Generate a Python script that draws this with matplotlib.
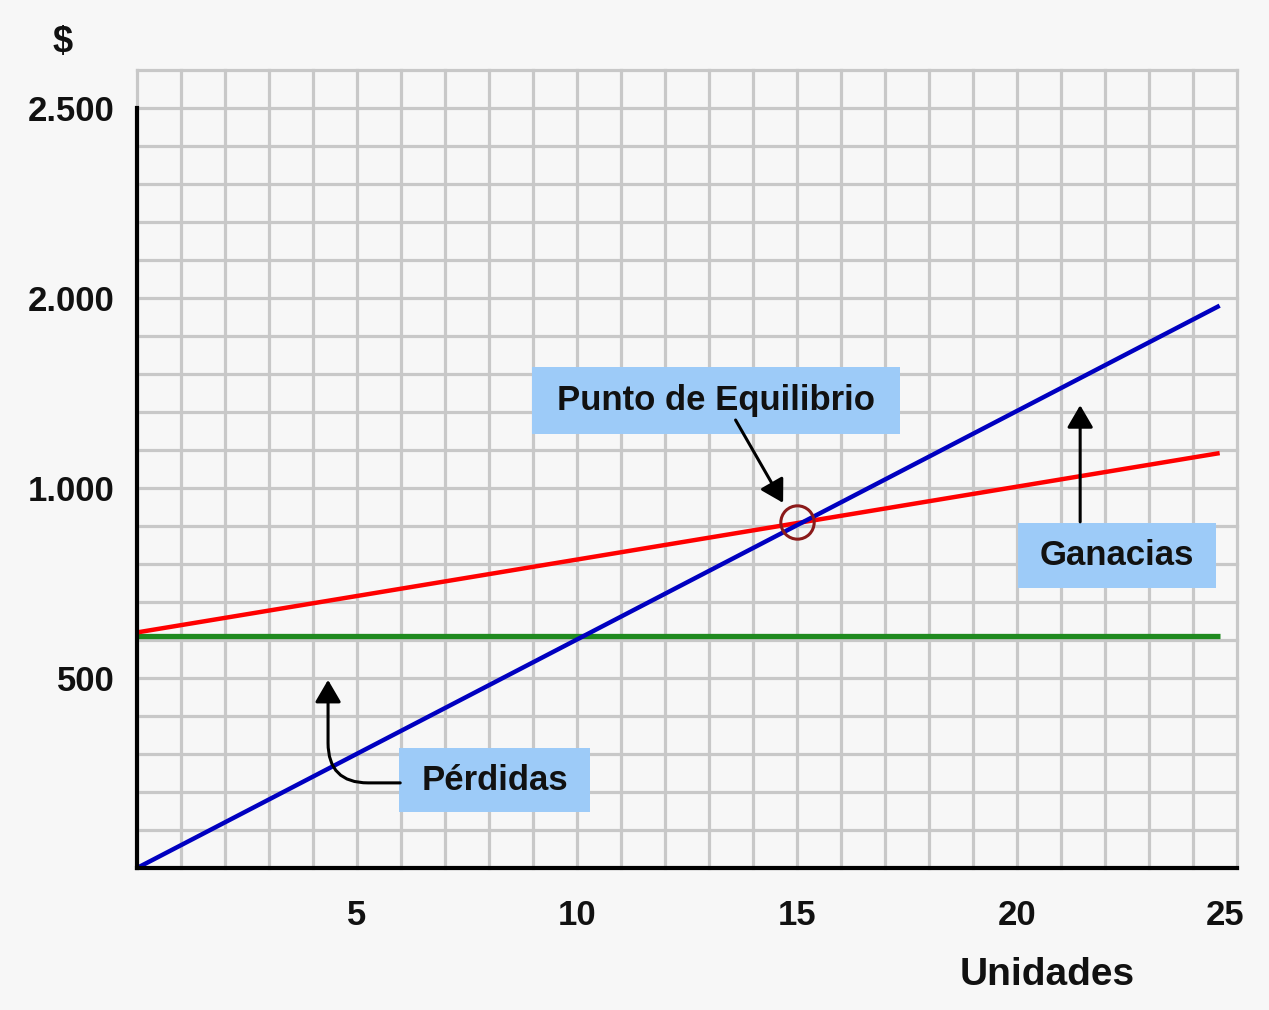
import matplotlib.pyplot as plt
from matplotlib.patches import Rectangle
from matplotlib.transforms import ScaledTranslation

# data
units = [0, 24.6]
fixed_cost = [610, 610]
total_cost = [620, 1092]
revenue = [0, 1480]
break_even = (15, 910)

x_ticks = [5, 10, 15, 20, 25]
x_labels = ['5', '10', '15', '20', '25']
y_ticks = [500, 1000, 1500, 2000]
y_labels = ['500', '1.000', '2.000', '2.500']

bg = '#f7f7f7'
box_color = '#9dcbf8'
grid_color = '#c8c8c8'
txt = '#111111'

plt.rcParams['font.family'] = ['Liberation Sans', 'DejaVu Sans']
plt.rcParams['font.weight'] = 'bold'

fig = plt.figure(figsize=(12.69, 10.10), dpi=100, facecolor=bg)
ax = fig.add_axes([0.108, 0.1406, 0.867, 0.790], facecolor=bg)
ax.set_xlim(0, 25)
ax.set_ylim(0, 2100)

# grid paper
for gx in range(0, 26):
    ax.axvline(gx, color=grid_color, lw=2.3, zorder=0, clip_on=False)
for gy in range(0, 2101, 100):
    ax.axhline(gy, color=grid_color, lw=2.3, zorder=0, clip_on=False)

# lines
ax.plot(units, fixed_cost, color='#1f8a1f', lw=3.8, zorder=3, solid_capstyle='butt')
ax.plot(units, total_cost, color='#ff0000', lw=3.2, zorder=3, solid_capstyle='butt')
ax.plot(units, revenue, color='#0000c0', lw=3.2, zorder=4, solid_capstyle='butt')
ax.plot(*break_even, 'o', ms=24, mfc='none', mec='#8b1a1a', mew=2.2, zorder=5)

# axes styling
for s in ['top', 'right']:
    ax.spines[s].set_visible(False)
ax.spines['left'].set_bounds(0, 2000)
ax.spines['left'].set_linewidth(3)
ax.spines['bottom'].set_linewidth(3)
ax.spines['left'].set_zorder(6)
ax.spines['bottom'].set_zorder(6)
ax.set_xticks(x_ticks, x_labels)
ax.set_yticks(y_ticks, y_labels)
ax.tick_params(length=0, labelsize=25, labelcolor=txt)
ax.tick_params(axis='x', pad=22)
ax.tick_params(axis='y', pad=16)
last = ax.get_xticklabels()[-1]
last.set_transform(last.get_transform() + ScaledTranslation(-9 / 72, 0, fig.dpi_scale_trans))

fig.text(0.049, 0.958, '$', fontsize=26, color=txt, ha='center', va='center')
fig.text(0.825, 0.035, 'Unidades', fontsize=28, color=txt, ha='center', va='center')

# label boxes
boxes = [
    ('Punto de Equilibrio', 8.98, 1142, 8.36, 176),
    ('Ganacias', 20.02, 737, 4.5, 171),
    ('Pérdidas', 5.95, 147, 4.35, 169),
]
for label, bx, by, bw, bh in boxes:
    ax.add_patch(Rectangle((bx, by), bw, bh, facecolor=box_color,
                           edgecolor='none', zorder=6))
    ax.text(bx + bw / 2, by + bh / 2, label, fontsize=25, color=txt,
            ha='center', va='center', zorder=7)

arrow = dict(arrowstyle='-|>,head_length=0.65,head_width=0.38',
             color='black', lw=2.2, mutation_scale=21, shrinkA=0, shrinkB=0)
ax.annotate('', xy=(14.68, 961), xytext=(13.6, 1179),
            arrowprops=arrow, zorder=7)
ax.annotate('', xy=(21.43, 1218), xytext=(21.43, 911),
            arrowprops=arrow, zorder=7)
ax.annotate('', xy=(4.34, 495), xytext=(5.98, 224),
            arrowprops=dict(arrow, connectionstyle='angle,angleA=0,angleB=90,rad=40'),
            zorder=7)

fig.savefig('out.png', dpi=100, facecolor=bg)
